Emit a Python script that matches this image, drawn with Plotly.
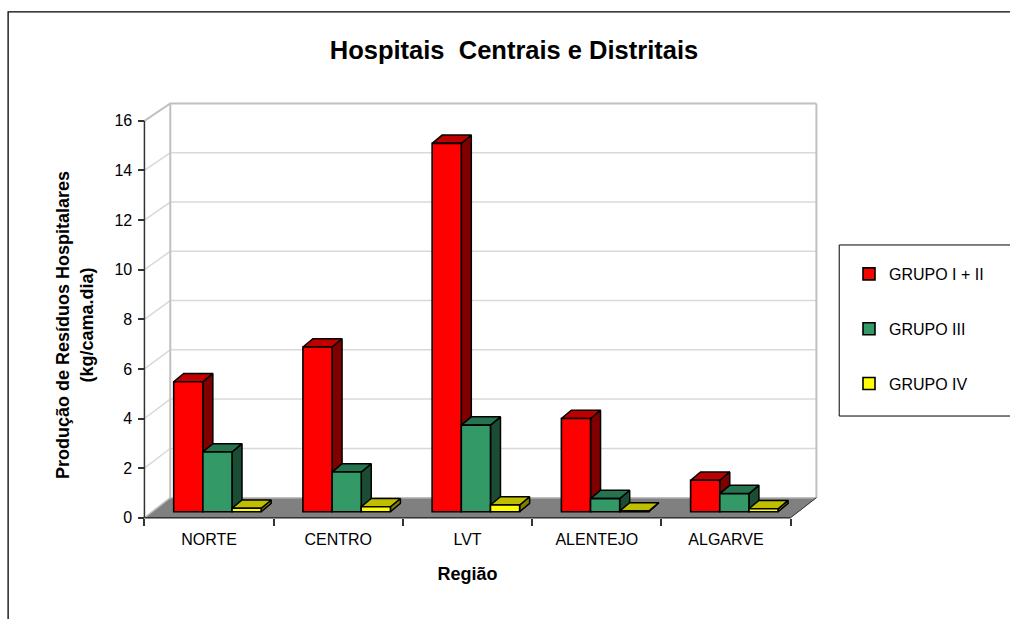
import plotly.graph_objects as go

categories = ["NORTE", "CENTRO", "LVT", "ALENTEJO", "ALGARVE"]
grupo_1_2 = [5.24, 6.64, 14.85, 3.76, 1.27]
grupo_3 = [2.41, 1.60, 3.49, 0.53, 0.73]
grupo_4 = [0.14, 0.20, 0.27, 0.03, 0.12]
y_ticks = [0, 2, 4, 6, 8, 10, 12, 14, 16]

series = [
    ("GRUPO I + II", grupo_1_2, "#FF0000", "#BF0000", "#800000"),
    ("GRUPO III", grupo_3, "#339966", "#267350", "#1A4D33"),
    ("GRUPO IV", grupo_4, "#FFFF00", "#BFBF00", "#808000"),
]

W, H = 1010, 619
X_PAD, Y_LOW, Y_HIGH = 0.22, 1.26, 16.8
PX_X, PX_Y = 129.4, 24.8
ORIGIN_X, ORIGIN_Y = 144, 517.7
BAR_W, BAR_START, BASE = 0.2257, 0.2264, 0.242
DEPTH_X, DEPTH_Y = 0.0773, 0.335
WALL_X = 0.2
n = len(categories)

L = ORIGIN_X - X_PAD * PX_X
R = ORIGIN_X + (n + X_PAD) * PX_X
T = ORIGIN_Y - Y_HIGH * PX_Y
B = ORIGIN_Y + Y_LOW * PX_Y


def back(v):
    return 0.81 + v * 0.993


def px(x):
    return (x - L) / (R - L)


def py(y):
    return (B - y) / (B - T)


fig = go.Figure()


def poly(xs, ys, fill, z, line="#000000", width=1.5):
    fig.add_trace(go.Scatter(x=xs, y=ys, mode="lines", fill="toself", fillcolor=fill,
                             line=dict(color=line, width=width), showlegend=False,
                             hoverinfo="skip", cliponaxis=False, zorder=z))


def seg(xs, ys, color, width, z=0):
    fig.add_trace(go.Scatter(x=xs, y=ys, mode="lines", line=dict(color=color, width=width),
                             showlegend=False, hoverinfo="skip", cliponaxis=False, zorder=z))


# floor
poly([0, WALL_X, n + WALL_X, n, 0], [0, back(0), back(0), 0, 0], "#808080", 0, line="#808080", width=0.5)

# walls and gridlines
for v in y_ticks[1:-1]:
    seg([0, WALL_X, n + WALL_X], [v, back(v), back(v)], "#D9D9D9", 1.5)
seg([0, WALL_X, n + WALL_X], [y_ticks[-1], back(y_ticks[-1]), back(y_ticks[-1])], "#C0C0C0", 2)
seg([WALL_X, WALL_X], [back(0), back(16)], "#C0C0C0", 2)
seg([n + WALL_X, n + WALL_X], [back(0), back(16)], "#C0C0C0", 2)
seg([WALL_X, n + WALL_X], [back(0), back(0)], "#C0C0C0", 1.5)
seg([0, WALL_X], [0, back(0)], "#C0C0C0", 1.5)
seg([n, n + WALL_X], [0, back(0)], "#333333", 1)

# bars: side + top faces, then the front as a real bar trace
for s, (name, vals, col, top, side) in enumerate(series):
    z = 1 + 2 * s
    for i, v in enumerate(vals):
        x0 = i + BAR_START + s * BAR_W
        x1 = x0 + BAR_W
        b, t = BASE, BASE + v
        poly([x1, x1 + DEPTH_X, x1 + DEPTH_X, x1, x1],
             [b, b + DEPTH_Y, t + DEPTH_Y, t, b], side, z)
        poly([x0, x0 + DEPTH_X, x1 + DEPTH_X, x1, x0],
             [t, t + DEPTH_Y, t + DEPTH_Y, t, t], top, z)
    fig.add_trace(go.Bar(name=name, x=[i + BAR_START + (s + 0.5) * BAR_W for i in range(n)],
                         y=vals, base=BASE, width=BAR_W,
                         marker=dict(color=col, line=dict(color="#000000", width=1.6)),
                         legendgroup=name, zorder=z + 1, cliponaxis=False))

# axis lines
seg([0, n], [0, 0], "#333333", 1.5, z=8)
seg([0, 0], [0, 16], "#333333", 1.5, z=8)

fig.update_layout(
    width=W, height=H, barmode="overlay", plot_bgcolor="rgba(0,0,0,0)", paper_bgcolor="#FFFFFF",
    margin=dict(l=L, r=W - R, t=T, b=H - B, autoexpand=False),
    font=dict(family="Liberation Sans, Arial, sans-serif", size=16, color="#000000"),
    title=dict(text="Hospitais\u00a0 Centrais e Distritais", x=514 / W, xref="container", xanchor="center",
               y=1 - 50 / H, yref="container", yanchor="middle",
               font=dict(size=25.5, weight="bold", color="#000000")),
    xaxis=dict(range=[-X_PAD, n + X_PAD], anchor="free", position=Y_LOW / (Y_LOW + Y_HIGH),
               showgrid=False, showline=False, zeroline=False,
               tickmode="array", tickvals=[i + 0.5 for i in range(n)], ticktext=categories, ticks="",
               tickfont=dict(size=16), ticklabelstandoff=10,
               minor=dict(tickmode="array", tickvals=list(range(n + 1)), ticks="outside", ticklen=7,
                          tickcolor="#333333", tickwidth=1.5, showgrid=False),
               title=dict(text="Região", font=dict(size=18, weight="bold"), standoff=20)),
    yaxis=dict(range=[-Y_LOW, Y_HIGH], anchor="free", position=X_PAD / (n + 2 * X_PAD),
               showgrid=False, showline=False, zeroline=False,
               tickmode="array", tickvals=y_ticks, ticks="outside", ticklen=6, tickcolor="#333333", tickwidth=1.5,
               tickfont=dict(size=16), ticklabelstandoff=3,
               title=dict(text="Produção de Resíduos Hospitalares<br>(kg/cama.dia)",
                          font=dict(size=18, weight="bold"), standoff=15)),
    legend=dict(xref="container", yref="container", x=840 / W, y=1 - 257 / H, xanchor="left", yanchor="top",
                bgcolor="rgba(0,0,0,0)", borderwidth=0,
                tracegroupgap=31, indentation=9, font=dict(size=16)),
    shapes=[
        dict(type="path", xref="paper", yref="paper",
             path=f"M {px(7.5)} {py(H + 5)} L {px(7.5)} {py(12)} L {px(W + 5)} {py(12)}",
             line=dict(color="#000000", width=1.3)),
        dict(type="rect", xref="paper", yref="paper", x0=px(839.7), x1=px(W + 5), y0=py(416), y1=py(245),
             fillcolor="#FFFFFF", line=dict(color="#000000", width=1)),
    ],
)

fig.write_html("out.html", post_script="document.body.style.margin='0';", config=dict(displayModeBar=False))
